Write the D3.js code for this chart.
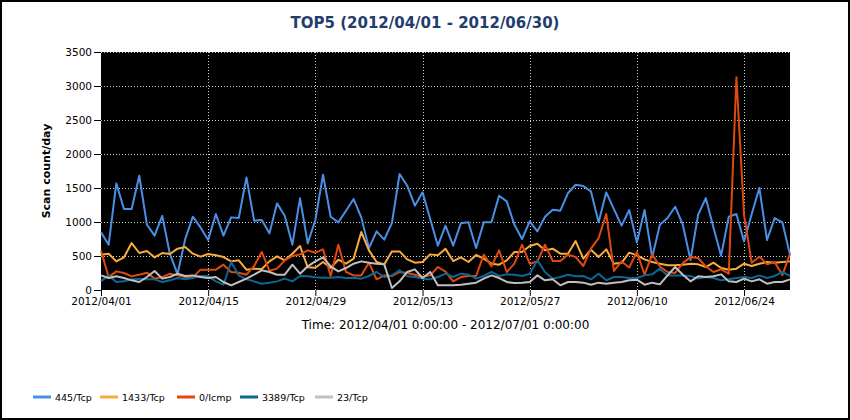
<html>
<head>
  <style>
    body { margin: 0; background: #fff; }
    svg text { font-family: "DejaVu Sans", Verdana, sans-serif; }
    svg .grid line { stroke: #d0d0d0; stroke-width: 1px; stroke-dasharray: 1,2; }
    svg .series { fill: none; stroke-width: 2px; stroke-linejoin: round; }
  </style>
</head>
<body>
  <div id="chart"></div>
  <script src="https://cdn.jsdelivr.net/npm/d3@7/dist/d3.min.js"></script>
  <script>
// daily counts, 2012/04/01 .. 2012/06/30
var startDay = "2012/04/01";
var endDay   = "2012/06/30";
var tickLabels = ["2012/04/01", "2012/04/15", "2012/04/29", "2012/05/13",
                  "2012/05/27", "2012/06/10", "2012/06/24"];
var yTicks = [0, 500, 1000, 1500, 2000, 2500, 3000, 3500];
var seriesNames  = ["445/Tcp", "1433/Tcp", "0/Icmp", "3389/Tcp", "23/Tcp"];
var seriesColors = ["#4a8fe6", "#f9ac3c", "#e0480f", "#0d6693", "#c0c0c0"];

var tcp445 = [850, 666, 1568, 1190, 1190, 1680, 960, 800, 1090, 530,
  235, 750, 1078, 920, 735, 1117, 800, 1068, 1058, 1656,
  1019, 1029, 833, 1274, 1093, 666, 1348, 686, 1029, 1695,
  1078, 995, 1166, 1338, 1068, 617, 862, 740, 985, 1705,
  1534, 1240, 1436, 1044, 652, 946, 652, 980, 995, 617,
  995, 995, 1387, 1303, 960, 750, 1009, 862, 1078, 1181,
  1166, 1426, 1548, 1529, 1450, 995, 1436, 1190, 946, 1176,
  700, 1176, 480, 960, 1058, 1225, 960, 441, 1107, 1352,
  920, 505, 1078, 1117, 715, 1117, 1500, 735, 1058, 995, 520];

var tcp1433 = [520, 534, 421, 480, 690, 544, 573, 480, 544, 529,
  608, 632, 534, 490, 529, 510, 485, 421, 436, 299,
  314, 309, 421, 495, 436, 534, 647, 333, 328, 412,
  323, 446, 387, 461, 853, 583, 412, 377, 568, 568,
  451, 402, 412, 524, 510, 605, 426, 480, 412, 515,
  461, 387, 372, 436, 559, 559, 647, 681, 583, 608,
  534, 534, 720, 461, 593, 485, 598, 387, 400, 549,
  510, 451, 412, 387, 363, 363, 372, 387, 377, 338,
  402, 323, 299, 314, 387, 353, 387, 412, 402, 412, 421];

var icmp0 = [580, 190, 274, 250, 201, 225, 255, 167, 190, 240,
  215, 190, 186, 299, 299, 299, 372, 265, 255, 225,
  353, 559, 284, 314, 436, 500, 524, 583, 549, 598,
  206, 666, 265, 215, 215, 402, 157, 215, 206, 265,
  250, 225, 190, 215, 338, 270, 127, 190, 206, 206,
  520, 348, 583, 265, 387, 666, 387, 421, 666, 426,
  426, 520, 485, 353, 608, 764, 1117, 280, 420, 330,
  560, 225, 525, 345, 265, 250, 395, 485, 470, 345,
  265, 305, 240, 3130, 1100, 400, 490, 380, 410, 220, 530];

var tcp3389 = [130, 215, 118, 127, 157, 167, 157, 157, 118, 142,
  176, 157, 176, 206, 201, 127, 78, 412, 215, 157,
  127, 93, 108, 127, 167, 127, 206, 201, 186, 181,
  181, 191, 176, 181, 167, 206, 265, 191, 215, 289,
  201, 191, 167, 157, 191, 240, 191, 240, 225, 167,
  206, 265, 206, 230, 225, 206, 240, 436, 265, 167,
  191, 225, 201, 206, 157, 240, 142, 191, 191, 176,
  176, 215, 230, 314, 215, 215, 215, 206, 167, 191,
  176, 142, 157, 176, 191, 176, 215, 176, 206, 265, 206];

var tcp23 = [215, 176, 201, 176, 142, 118, 191, 279, 167, 191,
  240, 206, 215, 191, 176, 191, 118, 69, 118, 167,
  225, 289, 265, 225, 225, 372, 240, 348, 421, 480,
  348, 274, 323, 387, 421, 402, 387, 377, 29, 127,
  265, 304, 176, 265, 69, 69, 69, 78, 93, 108,
  167, 215, 176, 118, 103, 108, 118, 215, 142, 157,
  69, 118, 118, 108, 78, 108, 93, 108, 118, 142,
  152, 78, 108, 83, 215, 338, 225, 127, 201, 191,
  201, 230, 127, 118, 167, 127, 157, 93, 118, 118, 157];

(function () {
  var W = 850, H = 420;
  var plot = { left: 101, right: 790, top: 52, bottom: 290 };

  var parseDay = d3.timeParse("%Y/%m/%d");
  var fmtDay = d3.timeFormat("%Y/%m/%d");
  var days = d3.timeDay.range(parseDay(startDay), d3.timeDay.offset(parseDay(endDay), 1));
  var allSeries = [tcp445, tcp1433, icmp0, tcp3389, tcp23];

  var svg = d3.select("#chart").append("svg")
      .attr("width", W)
      .attr("height", H);

  // outer frame
  svg.append("rect")
      .attr("x", 1).attr("y", 1)
      .attr("width", W - 2).attr("height", H - 2)
      .style("fill", "#fff")
      .style("stroke", "#000")
      .style("stroke-width", 2);

  var xScale = d3.scaleTime()
      .domain([parseDay(startDay), parseDay(endDay)])
      .range([plot.left, plot.right]);
  var yScale = d3.scaleLinear()
      .domain([0, 3500])
      .range([plot.bottom, plot.top]);

  // black plotting area
  svg.append("rect")
      .attr("x", plot.left).attr("y", plot.top)
      .attr("width", plot.right - plot.left)
      .attr("height", plot.bottom - plot.top)
      .style("fill", "#000");

  // dotted grid
  var grid = svg.append("g").classed("grid", true);
  grid.selectAll("line.h")
    .data(yTicks.filter(function (d) { return d > 0; }))
    .enter().append("line")
      .attr("x1", plot.left).attr("x2", plot.right)
      .attr("y1", function (d) { return yScale(d) + 0.5; })
      .attr("y2", function (d) { return yScale(d) + 0.5; });
  grid.selectAll("line.v")
    .data(tickLabels.slice(1))
    .enter().append("line")
      .attr("x1", function (d) { return Math.round(xScale(parseDay(d))) + 0.5; })
      .attr("x2", function (d) { return Math.round(xScale(parseDay(d))) + 0.5; })
      .attr("y1", plot.top).attr("y2", plot.bottom);

  // axes
  var yAxis = d3.axisLeft(yScale)
      .tickValues(yTicks)
      .tickFormat(d3.format("d"))
      .tickSize(7)
      .tickPadding(2)
      .tickSizeOuter(0);
  var ya = svg.append("g")
      .attr("transform", "translate(" + plot.left + ",0)")
      .call(yAxis);
  ya.select(".domain").remove();
  ya.selectAll("text").style("font-size", "10.5px").style("fill", "#000");

  var xAxis = d3.axisBottom(xScale)
      .tickValues(tickLabels.map(parseDay))
      .tickFormat(fmtDay)
      .tickSize(6)
      .tickPadding(2)
      .tickSizeOuter(0);
  var xa = svg.append("g")
      .attr("transform", "translate(0," + plot.bottom + ")")
      .call(xAxis);
  xa.select(".domain").remove();
  xa.selectAll("text").style("font-size", "10.5px").style("fill", "#000");

  // series
  var line = d3.line()
      .x(function (d, i) { return xScale(days[i]); })
      .y(function (d) { return yScale(d); });

  svg.append("g").selectAll("path")
    .data(allSeries)
    .enter().append("path")
      .classed("series", true)
      .attr("d", function (d) { return line(d); })
      .style("stroke", function (d, i) { return seriesColors[i]; });

  // titles
  svg.append("text")
      .attr("x", W / 2)
      .attr("y", 28)
      .text("TOP5 (" + startDay + " - " + endDay + ")")
      .style("text-anchor", "middle")
      .style("font-size", "15px")
      .style("font-weight", "bold")
      .style("fill", "#1f3d6d");

  svg.append("text")
      .attr("transform", "translate(50," + ((plot.top + plot.bottom) / 2) + ") rotate(-90)")
      .text("Scan count/day")
      .style("text-anchor", "middle")
      .style("font-size", "11px")
      .style("font-weight", "bold")
      .style("fill", "#000");

  svg.append("text")
      .attr("x", (plot.left + plot.right) / 2)
      .attr("y", 329)
      .text("Time: 2012/04/01 0:00:00 - 2012/07/01 0:00:00")
      .style("text-anchor", "middle")
      .style("font-size", "12px")
      .style("fill", "#000");

  // legend
  var legendX = [33, 100, 177, 240, 315];
  var lg = svg.append("g").selectAll("g")
    .data(seriesNames)
    .enter().append("g")
      .attr("transform", function (d, i) { return "translate(" + legendX[i] + ",397)"; });
  lg.append("line")
      .attr("x1", 0).attr("x2", 18)
      .attr("y1", 0).attr("y2", 0)
      .style("stroke", function (d, i) { return seriesColors[i]; })
      .style("stroke-width", 3);
  lg.append("text")
      .attr("x", 22)
      .attr("y", 4)
      .text(function (d) { return d; })
      .style("font-size", "9.5px")
      .style("fill", "#000");
})();
  </script>
</body>
</html>
